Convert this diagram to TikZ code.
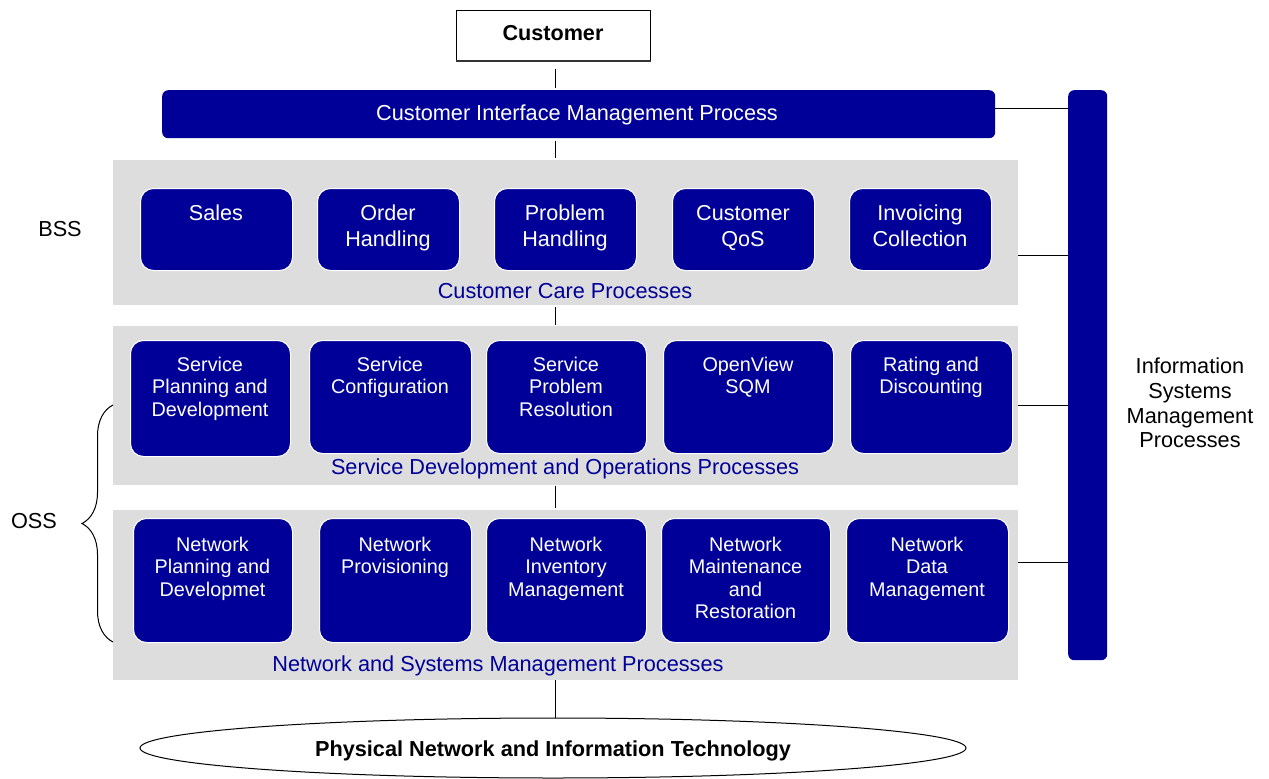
\documentclass[tikz,border=0pt]{standalone}
\usepackage{fontspec}
\setmainfont{Liberation Sans}
\usetikzlibrary{shapes.geometric,decorations.pathreplacing}
\definecolor{navy}{RGB}{0,0,153}
\definecolor{bandgray}{RGB}{221,221,221}
\tikzset{
  pbox/.style={fill=navy, draw=white, line width=1pt, rounded corners=13pt, inner sep=0pt},
  ptext/.style={text=white, align=center, inner sep=0pt, font=\fontsize{19.8}{22.4}\selectfont},
  btext/.style={text=white, align=center, inner sep=0pt, font=\fontsize{21.6}{25.8}\selectfont},
  bandbox/.style={fill=bandgray, draw=none, inner sep=0pt},
  bandlabel/.style={text=navy, inner sep=0pt, anchor=base, font=\fontsize{21.7}{25}\selectfont},
  bigtext/.style={inner sep=0pt, font=\fontsize{21.7}{25}\selectfont},
  conn/.style={draw=black, line width=0.9pt},
}
\newcommand\pbx[8]{% style, name, x1, y1, x2, y2, texttop, text
  \node[pbox, minimum width={(#5-#3)*1pt}, minimum height={(#6-#4)*1pt}, anchor=north west] (#2) at (#3,#4) {};
  \node[#1, anchor=north] (#2t) at ({(#3+#5)/2},#7) {#8};
}
\begin{document}
\begin{tikzpicture}[x=1pt,y=-1pt]
\useasboundingbox (0,0) rectangle (1269,779);

% Customer
\node[draw=black, line width=1pt, minimum width=194pt, minimum height=50pt, anchor=north west, inner sep=0pt] (cust) at (456,10) {};
\draw[line width=2.2pt, draw=black!80] (cust.south west) -- (cust.south east);
\node[bigtext, anchor=base, font=\fontsize{21.6}{25}\selectfont\bfseries] (custt) at (553,40) {Customer};

% Customer Interface Management
\node[fill=navy, rounded corners=6pt, minimum width=833pt, minimum height=48pt, anchor=north west, inner sep=0pt] (cim) at (162,90) {};
\node[bigtext, text=white, anchor=base] (cimt) at (577,120) {Customer Interface Management Process};

% ISM bar
\node[fill=navy, rounded corners=6pt, minimum width=39pt, minimum height=570pt, anchor=north west, inner sep=0pt] (ism) at (1068,90) {};
\node[bigtext, align=center, anchor=north, font=\fontsize{21.7}{24.6}\selectfont] (ismt) at (1190,358) {Information\\Systems\\Management\\Processes};

% Bands
\node[bandbox, minimum width=905pt, minimum height=145pt, anchor=north west] (cc) at (113,160) {};
\node[bandbox, minimum width=905pt, minimum height=159pt, anchor=north west] (sd) at (113,326) {};
\node[bandbox, minimum width=905pt, minimum height=170pt, anchor=north west] (nm) at (113,510) {};

\node[bandlabel] (cct) at (565,298) {Customer Care Processes};
\node[bandlabel] (sdt) at (565,474) {Service Development and Operations Processes};
\node[bandlabel] (nmt) at (498,671) {Network and Systems Management Processes};

% BSS boxes
\pbx{btext}{b1}{140}{188}{292}{270}{205}{Sales}
\pbx{btext}{b2}{317}{188}{459}{270}{205}{Order\\Handling}
\pbx{btext}{b3}{494}{188}{636}{270}{205}{Problem\\Handling}
\pbx{btext}{b4}{672}{188}{814}{270}{205}{Customer\\QoS}
\pbx{btext}{b5}{849}{188}{991}{270}{205}{Invoicing\\Collection}

% Service boxes
\pbx{ptext}{s1}{130}{340}{290}{456}{357}{Service\\Planning and\\Development}
\pbx{ptext}{s2}{309}{340}{471}{453}{357}{Service\\Configuration}
\pbx{ptext}{s3}{486}{340}{646}{453}{357}{Service\\Problem\\Resolution}
\pbx{ptext}{s4}{663}{340}{833}{453}{357}{OpenView\\SQM}
\pbx{ptext}{s5}{850}{340}{1012}{453}{357}{Rating and\\Discounting}

% Network boxes
\pbx{ptext}{n1}{133}{518}{292}{642}{537}{Network\\Planning and\\Developmet}
\pbx{ptext}{n2}{319}{518}{471}{642}{537}{Network\\Provisioning}
\pbx{ptext}{n3}{486}{518}{646}{642}{537}{Network\\Inventory\\Management}
\pbx{ptext}{n4}{661}{518}{830}{642}{537}{Network\\Maintenance\\and\\Restoration}
\pbx{ptext}{n5}{846}{518}{1008}{642}{537}{Network\\Data\\Management}

% Physical network ellipse
\node[ellipse, draw=black, line width=1pt, minimum width=826pt, minimum height=60pt, inner sep=0pt] (phys) at (553,748) {};
\node[bigtext, anchor=base, font=\fontsize{21.7}{25}\selectfont\bfseries] (physt) at (553,756) {Physical Network and Information Technology};

% Side labels
\node[bigtext, anchor=base] (bss) at (60,236) {BSS};
\node[bigtext, anchor=base] (oss) at (34,528) {OSS};

% vertical connectors
\draw[conn] (cust.south -| 555,0) ++(0,8) -- (555,88);
\draw[conn] (555,141) -- (555,158);
\draw[conn] (555,307) -- (555,325);
\draw[conn] (555,486) -- (555,508);
\draw[conn] (555,680) -- (phys.north -| 555,0);

% horizontal connectors to ISM
\draw[conn] (cim.east |- 0,108) -- (ism.west |- 0,108);
\draw[conn] (cc.east |- 0,255) -- (ism.west |- 0,255);
\draw[conn] (sd.east |- 0,405) -- (ism.west |- 0,405);
\draw[conn] (nm.east |- 0,562) -- (ism.west |- 0,562);

% OSS brace
\coordinate (bt) at (113,405);
\coordinate (bb) at (113,642);
\draw[line width=1pt, decorate, decoration={brace, amplitude=31pt}] (bb) -- (bt);
\end{tikzpicture}
\end{document}
